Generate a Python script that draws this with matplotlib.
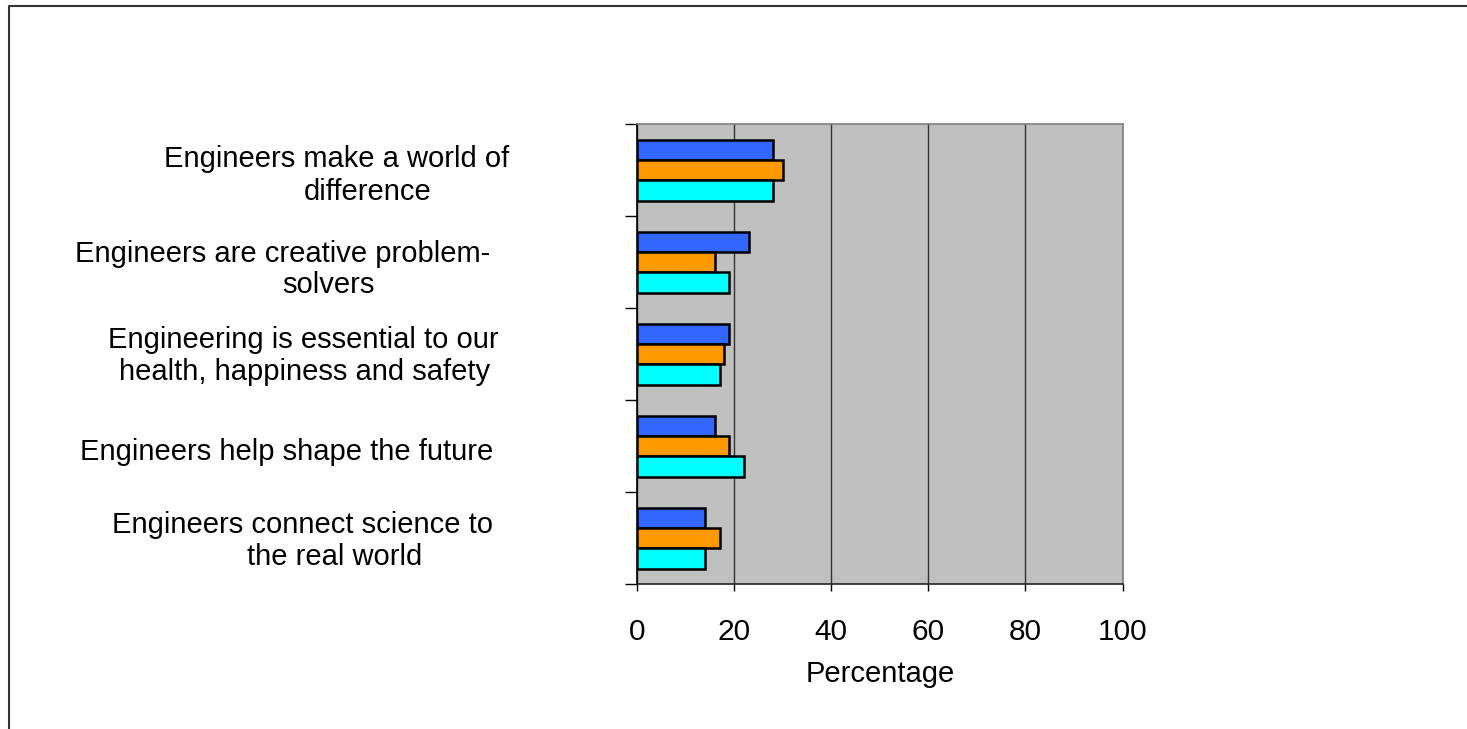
import matplotlib
matplotlib.use("Agg")
import matplotlib.pyplot as plt
import numpy as np
from matplotlib.lines import Line2D

# ---------------------------------------------------------------------------
# Data
# ---------------------------------------------------------------------------
categories = [
    ["Engineers make a world of", "difference"],
    ["Engineers are creative problem-", "solvers"],
    ["Engineering is essential to our", "health, happiness and safety"],
    ["Engineers help shape the future"],
    ["Engineers connect science to", "the real world"],
]
series_blue = [28, 23, 19, 16, 14]
series_orange = [30, 16, 18, 19, 17]
series_cyan = [28, 19, 17, 22, 14]
x_ticks = [0, 20, 40, 60, 80, 100]

# label line placement (pixel centres / baselines)
label_x = [[337, 368], [283, 328], [303, 305], [287], [303, 335]]
label_y = [[167, 200], [262, 293], [348, 380], [460], [533, 565]]

W, H = 1467, 729
plt.rcParams["font.family"] = ["Liberation Sans", "DejaVu Sans"]

fig = plt.figure(figsize=(W / 100, H / 100), dpi=100)
ax = fig.add_axes([637 / W, 1 - 584.3 / H, 485.5 / W, 460 / H])
ax.set_facecolor("#C0C0C0")

y = np.arange(len(categories))
h = 0.22
bar_kw = dict(height=h, edgecolor="black", linewidth=1.8, zorder=3)
ax.barh(y - h, series_blue, color="#3366FF", **bar_kw)
ax.barh(y, series_orange, color="#FF9900", **bar_kw)
ax.barh(y + h, series_cyan, color="#00FFFF", **bar_kw)

ax.set_xlim(0, 100)
ax.set_ylim(len(categories) - 0.5, -0.5)
ax.set_xticks(x_ticks)
ax.set_xticklabels([str(t) for t in x_ticks], fontsize=21.5)
ax.set_yticks(np.arange(len(categories) + 1) - 0.5)
ax.set_yticklabels([])
ax.tick_params(axis="y", length=9, width=1, color="black")
ax.tick_params(axis="x", length=5, width=1, color="black", pad=19)
ax.grid(axis="x", color="#333333", linewidth=1, zorder=1)
ax.set_xlabel("Percentage", fontsize=21, labelpad=10)

ax.spines["left"].set_color("black")
ax.spines["bottom"].set_color("#222222")
ax.spines["top"].set_color("#808080")
ax.spines["right"].set_color("#808080")
for s in ax.spines.values():
    s.set_linewidth(1.2)

# category labels, one text per line
for lines, xs, ys in zip(categories, label_x, label_y):
    for txt, xp, yp in zip(lines, xs, ys):
        fig.text(xp / W, 1 - yp / H, txt, fontsize=21,
                 ha="center", va="baseline")

# outer frame (top and left edges only visible)
fig.add_artist(Line2D([8.5 / W, 8.5 / W, 1.0], [0.0, 1 - 6 / H, 1 - 6 / H],
                      transform=fig.transFigure, color="#333333", linewidth=1.5))

fig.savefig("out.png", dpi=100)
